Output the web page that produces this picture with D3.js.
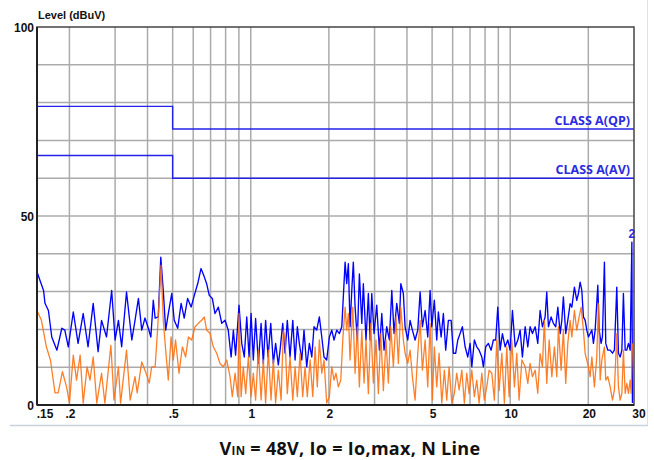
<!DOCTYPE html>
<html>
<head>
<meta charset="utf-8">
<script src="https://cdn.jsdelivr.net/npm/d3@7"></script>
<style>
  body { margin: 0; background: #fff; }
  svg { display: block; }
  .tick-lbl { font-family: "Liberation Sans", Arial, sans-serif; font-weight: bold; font-size: 12px; fill: #111; }
  .class-lbl { font-family: "Open Sans", sans-serif; font-weight: 700; font-size: 12.5px; fill: #2b2be0; }
</style>
</head>
<body>
<svg id="chart" width="654" height="460"></svg>
<script>
// measured trace, [MHz, dBuV]
var peakTrace = [[0.150,35.2],[0.159,30.3],[0.161,26.9],[0.166,25.0],[0.171,18.0],[0.179,14.5],[0.187,20.3],[0.192,19.8],[0.198,15.4],[0.207,24.6],[0.216,16.3],[0.226,24.2],[0.236,15.4],[0.247,26.9],[0.258,14.1],[0.266,22.4],[0.278,18.0],[0.291,30.3],[0.300,17.2],[0.309,22.4],[0.318,15.4],[0.332,29.9],[0.348,17.2],[0.358,22.4],[0.369,28.2],[0.380,19.8],[0.391,23.0],[0.403,20.3],[0.412,18.0],[0.421,27.7],[0.428,23.0],[0.440,23.3],[0.450,39.1],[0.460,30.3],[0.470,19.8],[0.481,24.2],[0.496,29.5],[0.507,22.4],[0.523,20.3],[0.539,26.9],[0.554,23.0],[0.571,28.2],[0.589,25.9],[0.606,29.0],[0.625,32.2],[0.643,36.1],[0.662,33.9],[0.676,32.1],[0.692,29.0],[0.711,28.2],[0.728,24.2],[0.750,25.9],[0.773,21.6],[0.796,22.4],[0.819,19.8],[0.840,12.7],[0.857,19.8],[0.874,13.2],[0.901,26.4],[0.923,16.3],[0.944,12.7],[0.965,23.3],[0.985,12.7],[1.003,24.2],[1.023,11.9],[1.044,22.9],[1.070,11.0],[1.096,21.6],[1.118,11.0],[1.141,22.4],[1.166,12.7],[1.194,21.6],[1.222,11.0],[1.247,16.3],[1.277,10.6],[1.297,14.5],[1.328,21.6],[1.356,13.7],[1.383,22.4],[1.417,12.7],[1.452,22.4],[1.482,11.9],[1.512,20.7],[1.539,16.3],[1.573,11.9],[1.604,19.8],[1.643,10.1],[1.682,16.3],[1.719,12.7],[1.753,20.7],[1.795,19.8],[1.838,23.3],[1.878,18.0],[1.916,12.7],[1.962,11.9],[2.009,18.0],[2.052,19.8],[2.094,17.2],[2.144,19.8],[2.196,18.9],[2.243,20.7],[2.274,28.6],[2.310,37.8],[2.343,32.1],[2.378,37.4],[2.414,20.7],[2.451,30.3],[2.485,37.8],[2.524,25.9],[2.575,17.2],[2.622,34.7],[2.679,21.6],[2.716,32.1],[2.781,17.2],[2.840,29.5],[2.884,17.2],[2.927,29.5],[2.986,18.9],[3.059,26.4],[3.132,14.5],[3.199,24.2],[3.264,14.5],[3.342,20.7],[3.422,17.2],[3.496,30.3],[3.567,18.9],[3.653,26.9],[3.740,21.6],[3.787,32.1],[3.874,29.5],[3.934,20.7],[4.028,17.2],[4.113,22.4],[4.197,19.8],[4.299,17.2],[4.402,19.8],[4.495,29.9],[4.587,20.7],[4.699,25.0],[4.811,18.0],[4.912,30.3],[4.986,20.7],[5.100,27.7],[5.210,17.2],[5.286,24.6],[5.416,18.0],[5.526,24.2],[5.641,14.5],[5.777,22.4],[5.918,22.4],[6.039,13.7],[6.165,13.7],[6.279,17.2],[6.411,18.9],[6.542,20.7],[6.702,15.4],[6.862,12.7],[7.006,16.3],[7.112,10.1],[7.275,17.2],[7.431,15.4],[7.588,14.5],[7.773,12.7],[7.881,10.1],[8.046,15.4],[8.240,16.3],[8.441,14.5],[8.613,17.2],[8.793,17.2],[8.956,25.9],[9.144,14.5],[9.331,18.9],[9.559,15.4],[9.788,17.2],[9.993,14.5],[10.20,25.0],[10.45,15.4],[10.70,17.2],[10.92,19.8],[11.14,12.7],[11.42,20.7],[11.69,15.4],[11.93,20.7],[12.18,18.9],[12.48,20.7],[12.77,16.3],[13.04,25.0],[13.31,20.7],[13.63,23.3],[13.83,29.9],[14.04,20.7],[14.38,23.3],[14.67,21.6],[14.98,20.7],[15.26,25.9],[15.58,18.9],[15.81,22.4],[16.03,28.6],[16.37,18.9],[16.67,22.4],[17.02,26.8],[17.28,25.9],[17.68,31.2],[18.05,27.7],[18.32,29.5],[18.60,32.5],[18.88,30.3],[19.15,23.3],[19.45,22.4],[19.73,19.8],[20.02,18.0],[20.33,18.9],[20.64,19.8],[20.93,16.3],[21.25,19.8],[21.76,31.7],[22.02,19.8],[22.41,16.3],[22.67,18.0],[23.07,37.8],[23.35,16.3],[23.78,14.5],[24.28,14.5],[24.78,13.7],[25.21,14.5],[25.75,31.2],[26.13,13.7],[26.53,12.7],[26.94,14.5],[27.31,29.5],[27.74,14.5],[28.14,14.5],[28.56,16.3],[29.00,14.5],[29.44,43.1],[29.59,0.5]];

var avgTrace = [[0.150,25.0],[0.156,22.4],[0.163,15.4],[0.169,11.9],[0.176,3.2],[0.181,3.2],[0.188,8.8],[0.195,4.8],[0.200,0.5],[0.207,13.2],[0.213,6.6],[0.220,13.2],[0.226,0.5],[0.234,10.1],[0.240,6.6],[0.247,12.7],[0.255,0.5],[0.266,8.4],[0.274,0.5],[0.289,15.8],[0.297,1.3],[0.309,10.1],[0.315,0.5],[0.332,14.5],[0.343,1.3],[0.358,7.5],[0.365,3.2],[0.380,11.4],[0.391,9.2],[0.399,7.5],[0.406,5.8],[0.415,10.1],[0.428,10.1],[0.438,20.7],[0.451,37.0],[0.460,22.4],[0.470,14.5],[0.481,6.6],[0.493,18.0],[0.503,11.9],[0.513,17.2],[0.529,8.4],[0.545,15.4],[0.561,12.7],[0.575,18.0],[0.592,17.2],[0.610,20.7],[0.628,21.6],[0.647,22.4],[0.662,23.3],[0.676,19.8],[0.697,18.9],[0.717,15.4],[0.739,13.7],[0.761,11.0],[0.784,10.1],[0.808,11.9],[0.832,7.5],[0.849,2.2],[0.870,8.4],[0.891,2.2],[0.901,24.2],[0.918,2.2],[0.936,10.1],[0.956,3.0],[0.979,12.7],[1.003,2.2],[1.023,8.4],[1.044,1.3],[1.070,14.5],[1.096,1.3],[1.118,11.9],[1.141,0.5],[1.169,14.5],[1.197,1.3],[1.222,11.9],[1.247,0.5],[1.277,9.2],[1.309,1.3],[1.335,19.8],[1.356,17.2],[1.383,3.0],[1.417,12.7],[1.452,1.3],[1.482,10.1],[1.512,2.2],[1.549,13.7],[1.586,2.2],[1.619,10.1],[1.652,2.2],[1.693,11.9],[1.734,2.2],[1.770,15.4],[1.805,4.8],[1.838,17.2],[1.878,8.4],[1.916,11.9],[1.962,0.5],[2.009,2.2],[2.052,10.1],[2.094,6.6],[2.130,8.4],[2.176,4.8],[2.223,6.6],[2.263,17.2],[2.310,25.9],[2.343,19.8],[2.378,24.2],[2.414,11.9],[2.473,25.9],[2.524,8.4],[2.575,20.7],[2.622,4.8],[2.679,19.8],[2.733,5.8],[2.781,17.2],[2.840,3.0],[2.901,21.6],[2.968,5.8],[3.039,17.2],[3.103,3.0],[3.171,18.9],[3.244,3.8],[3.321,17.2],[3.391,5.8],[3.465,20.7],[3.545,10.1],[3.629,23.3],[3.706,11.0],[3.787,25.9],[3.874,17.2],[3.934,13.7],[4.028,11.0],[4.113,14.5],[4.197,7.5],[4.299,1.3],[4.402,13.7],[4.495,22.4],[4.587,9.2],[4.699,17.2],[4.811,4.8],[4.912,21.6],[5.012,1.3],[5.100,15.4],[5.210,4.8],[5.320,13.7],[5.449,0.5],[5.574,9.2],[5.694,1.3],[5.814,10.1],[5.955,0.5],[6.091,3.0],[6.222,8.4],[6.354,4.0],[6.508,9.2],[6.657,0.5],[6.800,8.4],[6.943,3.0],[7.112,9.2],[7.275,2.2],[7.431,6.6],[7.588,0.5],[7.773,8.4],[7.950,1.3],[8.121,4.8],[8.293,9.2],[8.494,8.4],[8.688,1.3],[8.875,17.2],[9.062,3.8],[9.283,13.7],[9.495,0.5],[9.699,15.4],[9.904,2.2],[10.14,17.2],[10.38,4.8],[10.60,13.7],[10.82,1.3],[11.09,11.9],[11.42,10.1],[11.69,5.7],[11.93,11.0],[12.18,7.5],[12.48,9.2],[12.77,3.1],[13.04,13.6],[13.31,10.1],[13.54,22.4],[13.83,5.7],[14.13,17.2],[14.47,7.5],[14.80,15.4],[15.12,7.5],[15.34,20.7],[15.71,9.2],[16.03,19.8],[16.37,5.7],[16.67,16.3],[17.02,22.4],[17.28,18.0],[17.68,25.0],[18.05,19.8],[18.44,23.3],[18.77,25.9],[19.15,19.8],[19.45,13.6],[19.73,11.9],[20.02,10.1],[20.33,7.5],[20.64,12.7],[21.11,4.8],[21.56,12.7],[21.88,26.8],[22.22,6.6],[22.55,11.9],[23.07,15.4],[23.35,6.6],[23.78,7.5],[24.28,4.8],[24.78,1.3],[25.21,4.0],[25.75,18.9],[26.13,4.8],[26.53,1.3],[26.94,3.1],[27.31,14.5],[27.74,3.1],[28.14,5.7],[28.56,3.1],[29.00,6.6],[29.25,3.1],[29.59,16.3]];

var qpLimit = [[0.15,79],[0.5,79],[0.5,73],[30,73]];
var avLimit = [[0.15,66],[0.5,66],[0.5,60],[30,60]];

var xGrid = [0.2,0.3,0.4,0.5,0.6,0.7,0.8,0.9,1,2,3,4,5,6,7,8,9,10,20];
var xTicks = [0.15,0.2,0.5,1,2,5,10,20,30];
var xTickText = ['.15','.2','.5','1','2','5','10','20','30'];
var yGrid = [10,20,30,40,50,60,70,80,90];
var yTicks = [0,50,100];

var svg = d3.select('#chart');

var x = d3.scaleLog().domain([0.15, 30]).range([37, 634]);
var y = d3.scaleLinear().domain([0, 100]).range([405, 27]);

// frame of the window
svg.append('line')
  .attr('x1', 10).attr('x2', 648).attr('y1', 425.5).attr('y2', 425.5)
  .attr('stroke', '#c9d1dc').attr('stroke-width', 1.5)
svg.append('line')
  .attr('x1', 647.5).attr('x2', 647.5).attr('y1', 0).attr('y2', 425)
  .attr('stroke', '#dde2e8').attr('stroke-width', 1)

// grid
var grid = svg.append('g').attr('stroke', '#ababab').attr('stroke-width', 1.5)
grid.selectAll('line.v').data(xGrid).enter().append('line')
  .attr('x1', function(d) { return x(d) }).attr('x2', function(d) { return x(d) })
  .attr('y1', y(100)).attr('y2', y(0))
grid.selectAll('line.h').data(yGrid).enter().append('line')
  .attr('x1', x(0.15)).attr('x2', x(30))
  .attr('y1', function(d) { return y(d) }).attr('y2', function(d) { return y(d) })

// limit lines
var line = d3.line()
  .x(function(d) { return x(d[0]) })
  .y(function(d) { return y(d[1]) })

;[qpLimit, avLimit].forEach(function(lim) {
  svg.append('path').datum(lim)
    .attr('d', line)
    .attr('fill', 'none')
    .attr('stroke', '#2323e8')
    .attr('stroke-width', 1.4)
})

// traces
svg.append('path').datum(peakTrace)
  .attr('d', line)
  .attr('fill', 'none')
  .attr('stroke', '#0000ff')
  .attr('stroke-width', 1.35)
  .attr('stroke-linejoin', 'round')

svg.append('path').datum(avgTrace)
  .attr('d', line)
  .attr('fill', 'none')
  .attr('stroke', '#ff6d0a')
  .attr('stroke-opacity', 0.88)
  .attr('stroke-width', 1.3)
  .attr('stroke-linejoin', 'round')

// plot border
svg.append('rect')
  .attr('x', x(0.15)).attr('y', y(100))
  .attr('width', x(30) - x(0.15)).attr('height', y(0) - y(100))
  .attr('fill', 'none').attr('stroke', '#444').attr('stroke-width', 1.5)
svg.append('line')
  .attr('x1', x(0.15)).attr('x2', x(0.15)).attr('y1', y(100)).attr('y2', y(0))
  .attr('stroke', '#222').attr('stroke-width', 2)
svg.append('line')
  .attr('x1', x(0.15)).attr('x2', x(30)).attr('y1', y(0)).attr('y2', y(0))
  .attr('stroke', '#222').attr('stroke-width', 2)

// y labels
svg.selectAll('text.ylbl').data(yTicks).enter().append('text')
  .attr('class', 'tick-lbl')
  .attr('x', 34)
  .attr('y', function(d) { return y(d) + 5 })
  .attr('text-anchor', 'end')
  .text(function(d) { return d })

svg.append('text')
  .attr('class', 'tick-lbl')
  .attr('x', 38).attr('y', 19)
  .style('font-size', '11px')
  .text('Level (dBuV)')

// x labels
svg.selectAll('text.xlbl').data(xTicks).enter().append('text')
  .attr('class', 'tick-lbl')
  .attr('x', function(d, i) {
    if (i == 0) return x(d) + 8
    if (i == xTicks.length - 1) return x(d) + 5
    return x(d) + 1
  })
  .attr('y', 418)
  .attr('text-anchor', 'middle')
  .text(function(d, i) { return xTickText[i] })

// limit labels
svg.append('text').attr('class', 'class-lbl')
  .attr('x', 630).attr('y', y(73) - 4)
  .attr('text-anchor', 'end')
  .text('CLASS A(QP)')
svg.append('text').attr('class', 'class-lbl')
  .attr('x', 630).attr('y', y(60) - 4)
  .attr('text-anchor', 'end')
  .text('CLASS A(AV)')

// marker
svg.append('text').attr('class', 'class-lbl')
  .attr('x', x(29.44)).attr('y', 238)
  .attr('text-anchor', 'middle')
  .style('font-family', '"Liberation Sans", Arial, sans-serif')
  .style('font-size', '12px')
  .text('2')

// caption
var cap = svg.append('text')
  .attr('x', 350).attr('y', 455)
  .attr('text-anchor', 'middle')
  .style('font-family', '"Open Sans", sans-serif')
  .style('font-weight', 700)
  .style('font-size', '18px')
  .style('letter-spacing', '0.3px')
  .attr('fill', '#111')
cap.append('tspan').text('V')
cap.append('tspan').style('font-size', '11.5px').text('IN')
cap.append('tspan').text(' = 48V, Io = Io,max, N Line')
</script>
</body>
</html>
